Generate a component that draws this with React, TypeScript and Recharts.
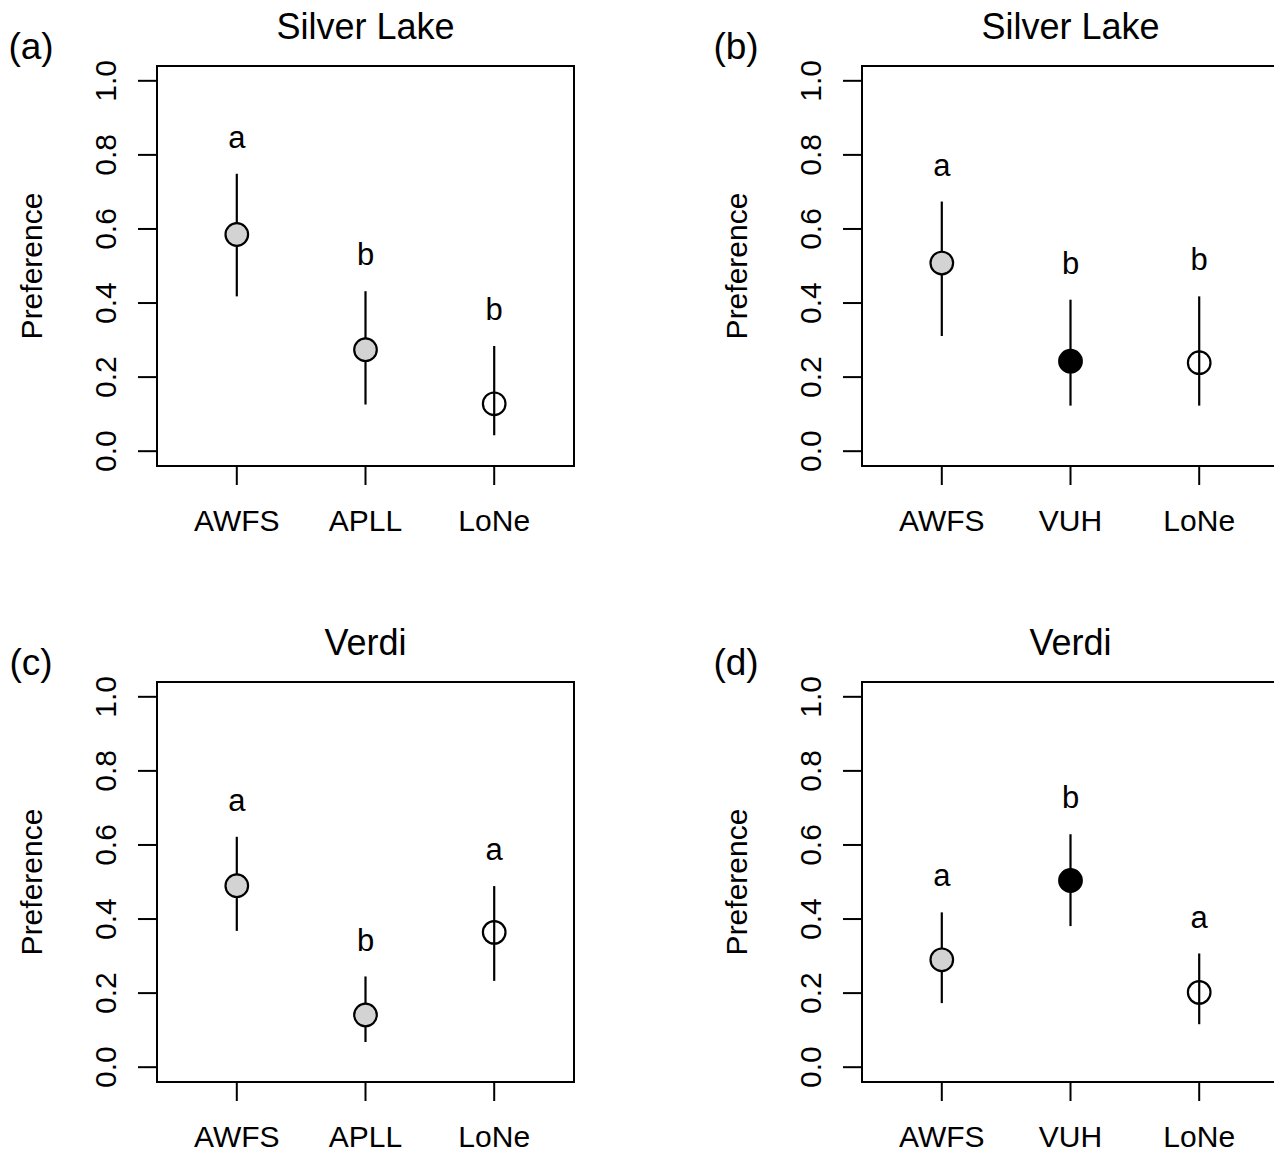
import React from "react";
import { ScatterChart, Scatter, XAxis, YAxis, ErrorBar, ReferenceArea } from "recharts";

// ---------- data ----------
const categoriesAPLL = ["AWFS", "APLL", "LoNe"];
const categoriesVUH = ["AWFS", "VUH", "LoNe"];

// (a) Silver Lake
const meanA = [0.585, 0.274, 0.128];
const lowerA = [0.418, 0.126, 0.043];
const upperA = [0.749, 0.432, 0.284];
const lettersA = ["a", "b", "b"];

// (b) Silver Lake
const meanB = [0.508, 0.243, 0.239];
const lowerB = [0.311, 0.123, 0.123];
const upperB = [0.674, 0.409, 0.418];
const lettersB = ["a", "b", "b"];

// (c) Verdi
const meanC = [0.49, 0.141, 0.364];
const lowerC = [0.368, 0.068, 0.233];
const upperC = [0.622, 0.245, 0.489];
const lettersC = ["a", "b", "a"];

// (d) Verdi
const meanD = [0.29, 0.504, 0.202];
const lowerD = [0.173, 0.381, 0.116];
const upperD = [0.418, 0.629, 0.307];
const lettersD = ["a", "b", "a"];

const yTicks = [0, 0.2, 0.4, 0.6, 0.8, 1.0];
const yTickLabels = ["0.0", "0.2", "0.4", "0.6", "0.8", "1.0"];
const xTicks = [1, 2, 3];
const yAxisTitle = "Preference";

// ---------- styles ----------
const FONT = '"Liberation Sans", Arial, Helvetica, sans-serif';
const FILLS: Record<string, string> = {
  AWFS: "#d3d3d3",
  APLL: "#d3d3d3",
  VUH: "#000000",
  LoNe: "none",
};
const LETTER_GAP = 0.1;
const X_DOMAIN: [number, number] = [0.38, 3.62];
const Y_DOMAIN: [number, number] = [-0.04, 1.04];

const CHART_W = 637;
const CHART_H = 576;
const AXIS_FS = 30;

const renderPoint = (p: any) => {
  const cat = p.payload.cat as string;
  return (
    <circle
      cx={p.cx}
      cy={p.cy}
      r={11.3}
      fill={FILLS[cat] ?? "none"}
      stroke="#000"
      strokeWidth={2.2}
    />
  );
};

const renderLetter = (p: any) => (
  <text
    x={p.cx}
    y={p.cy}
    dy="0.36em"
    textAnchor="middle"
    fontFamily={FONT}
    fontSize={31}
    fill="#000"
  >
    {p.payload.letter}
  </text>
);

type PanelProps = {
  left: number;
  top: number;
  cats: string[];
  mean: number[];
  lower: number[];
  upper: number[];
  letters: string[];
  title: string;
  tag: string;
};

function Panel({ left, top, cats, mean, lower, upper, letters, title, tag }: PanelProps) {
  const rows = cats.map((c, i) => ({
    x: i + 1,
    y: mean[i],
    err: [mean[i] - lower[i], upper[i] - mean[i]],
    cat: c,
  }));
  const letterRows = cats.map((c, i) => ({
    x: i + 1,
    y: upper[i] + LETTER_GAP,
    letter: letters[i],
  }));

  const xTick = (props: any) => {
    const { x, y, payload } = props;
    const label = cats[Math.round(payload.value) - 1];
    return (
      <text
        x={x}
        y={y}
        dy="0.716em"
        textAnchor="middle"
        fontFamily={FONT}
        fontSize={AXIS_FS}
        fill="#000"
      >
        {label}
      </text>
    );
  };

  const yTick = (props: any) => {
    const { x, y, payload } = props;
    const idx = yTicks.findIndex((t) => Math.abs(t - payload.value) < 1e-9);
    return (
      <text
        x={x}
        y={y}
        transform={`rotate(-90, ${x}, ${y})`}
        textAnchor="middle"
        fontFamily={FONT}
        fontSize={AXIS_FS}
        fill="#000"
      >
        {idx >= 0 ? yTickLabels[idx] : String(payload.value)}
      </text>
    );
  };

  return (
    <div style={{ position: "absolute", left, top, width: CHART_W, height: CHART_H }}>
      <ScatterChart
        width={CHART_W}
        height={CHART_H}
        margin={{ top: 66, right: 63, bottom: 50, left: 97 }}
      >
        <XAxis
          type="number"
          dataKey="x"
          domain={X_DOMAIN}
          ticks={xTicks}
          interval={0}
          allowDataOverflow
          height={60}
          axisLine={false}
          tickLine={{ stroke: "#000", strokeWidth: 2 }}
          tickSize={19}
          tickMargin={25}
          tick={xTick}
        />
        <YAxis
          type="number"
          dataKey="y"
          domain={Y_DOMAIN}
          ticks={yTicks}
          interval={0}
          allowDataOverflow
          width={60}
          axisLine={false}
          tickLine={{ stroke: "#000", strokeWidth: 2 }}
          tickSize={19}
          tickMargin={22}
          tick={yTick}
        />
        <ReferenceArea
          x1={X_DOMAIN[0]}
          x2={X_DOMAIN[1]}
          y1={Y_DOMAIN[0]}
          y2={Y_DOMAIN[1]}
          fill="none"
          fillOpacity={0}
          stroke="#000"
          strokeWidth={2}
          ifOverflow="visible"
        />
        <Scatter data={rows} dataKey="y" isAnimationActive={false} shape={renderPoint}>
          <ErrorBar
            dataKey="err"
            direction="y"
            width={0}
            stroke="#000"
            strokeWidth={2.2}
            isAnimationActive={false}
          />
        </Scatter>
        <Scatter data={letterRows} dataKey="y" isAnimationActive={false} shape={renderLetter} />
      </ScatterChart>
      <svg
        width={CHART_W}
        height={CHART_H}
        style={{ position: "absolute", left: 0, top: 0, pointerEvents: "none" }}
      >
        <text x={365.5} y={39} textAnchor="middle" fontFamily={FONT} fontSize={36} fill="#000">
          {title}
        </text>
        <text x={31} y={59} textAnchor="middle" fontFamily={FONT} fontSize={37} fill="#000">
          {tag}
        </text>
        <text
          x={42}
          y={266}
          transform="rotate(-90, 42, 266)"
          textAnchor="middle"
          fontFamily={FONT}
          fontSize={AXIS_FS}
          fill="#000"
        >
          {yAxisTitle}
        </text>
      </svg>
    </div>
  );
}

export default function App() {
  return (
    <div
      style={{
        position: "absolute",
        left: 0,
        top: 0,
        width: 1274,
        height: 1152,
        overflow: "hidden",
        background: "#fff",
      }}
    >
      <Panel left={0} top={0} cats={categoriesAPLL} mean={meanA} lower={lowerA} upper={upperA} letters={lettersA} title="Silver Lake" tag="(a)" />
      <Panel left={705} top={0} cats={categoriesVUH} mean={meanB} lower={lowerB} upper={upperB} letters={lettersB} title="Silver Lake" tag="(b)" />
      <Panel left={0} top={616} cats={categoriesAPLL} mean={meanC} lower={lowerC} upper={upperC} letters={lettersC} title="Verdi" tag="(c)" />
      <Panel left={705} top={616} cats={categoriesVUH} mean={meanD} lower={lowerD} upper={upperD} letters={lettersD} title="Verdi" tag="(d)" />
    </div>
  );
}
